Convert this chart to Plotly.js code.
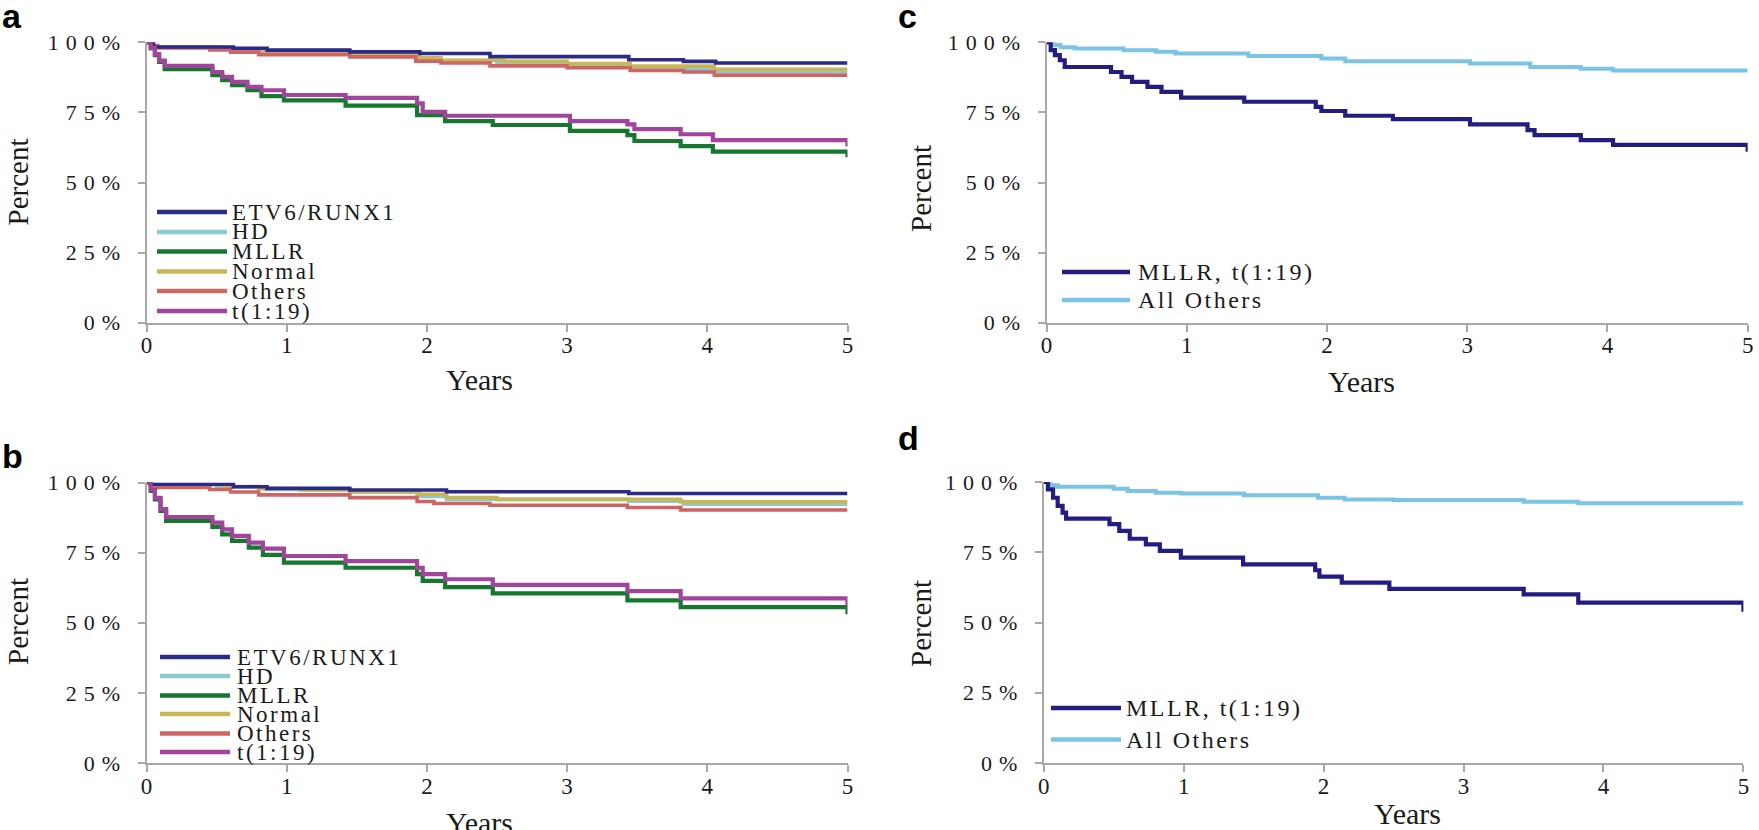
<!DOCTYPE html>
<html>
<head>
<meta charset="utf-8">
<script src="https://cdn.plot.ly/plotly-3.0.1.min.js"></script>
<style>
  html, body { margin: 0; padding: 0; background: #ffffff; }
  #chart { width: 1759px; height: 830px; }
</style>
</head>
<body>
<div id="chart"></div>
<script>
// ---------------- DATA ----------------
const yTickValues = [0, 25, 50, 75, 100];
const yTickLabels = ["0%", "25%", "50%", "75%", "100%"];
const xTickValues = [0, 1, 2, 3, 4, 5];
const xTickLabels = ["0", "1", "2", "3", "4", "5"];

const groupNames = ["ETV6/RUNX1", "HD", "MLLR", "Normal", "Others", "t(1:19)"];
const pairNames = ["MLLR, t(1:19)", "All Others"];

// Panel a
const a_etv6_t = [0, 0.05, 0.62, 0.86, 1.45, 1.95, 2.45, 3.44, 3.83, 4.06, 5];
const a_etv6_s = [100, 98.3, 97.9, 97.2, 96.6, 96.0, 94.9, 93.8, 93.2, 92.6, 92.6];
const a_hd_t = [0, 0.04, 0.5, 0.8, 1.2, 1.95, 2.1, 2.5, 3.0, 3.45, 3.85, 4.05, 5];
const a_hd_s = [100, 98.4, 97.5, 96.5, 95.8, 94.5, 93.5, 92.8, 92.0, 91.2, 90.3, 89.6, 89.6];
const a_mllr_t = [0, 0.03, 0.06, 0.09, 0.13, 0.47, 0.54, 0.61, 0.72, 0.82, 0.98, 1.42, 1.93, 2.13, 2.47, 3.02, 3.43, 3.48, 3.81, 4.04, 5, 5];
const a_mllr_s = [100, 97.8, 95.4, 93.0, 90.4, 88.3, 86.5, 84.7, 82.9, 80.8, 79.3, 77.4, 74.0, 71.9, 70.5, 68.4, 66.9, 64.8, 63.0, 61.0, 61.0, 59.0];
const a_normal_t = [0, 0.04, 0.55, 0.85, 1.45, 1.93, 2.1, 2.55, 3.0, 3.45, 4.05, 5];
const a_normal_s = [100, 98.3, 97.5, 96.4, 95.6, 94.5, 93.6, 93.2, 92.4, 91.5, 90.4, 90.4];
const a_others_t = [0, 0.03, 0.08, 0.45, 0.6, 0.8, 1.45, 1.92, 2.1, 2.45, 3.0, 3.45, 3.83, 4.05, 5];
const a_others_s = [100, 98.8, 98.0, 97.3, 96.5, 95.6, 94.8, 93.3, 92.6, 91.6, 90.9, 90.0, 89.4, 88.3, 88.3];
const a_t119_t = [0, 0.03, 0.06, 0.09, 0.13, 0.47, 0.54, 0.61, 0.72, 0.82, 0.98, 1.42, 1.93, 1.97, 2.13, 3.02, 3.43, 3.48, 3.81, 4.04, 5, 5];
const a_t119_s = [100, 98.0, 95.8, 93.5, 91.6, 89.4, 87.7, 85.9, 84.1, 82.9, 81.2, 80.2, 78.2, 75.2, 73.8, 71.9, 70.7, 69.0, 67.2, 65.1, 65.1, 62.8];

// Panel b
const b_etv6_t = [0, 0.03, 0.62, 0.86, 1.45, 2.14, 3.44, 5];
const b_etv6_s = [100, 99.4, 98.5, 97.9, 97.3, 96.7, 96.1, 96.1];
const b_hd_t = [0, 0.03, 0.5, 0.85, 1.45, 1.95, 2.14, 3.44, 3.83, 5];
const b_hd_s = [100, 99.3, 98.5, 97.5, 96.5, 95.0, 94.0, 93.3, 92.3, 92.3];
const b_mllr_t = [0, 0.03, 0.06, 0.1, 0.14, 0.47, 0.54, 0.61, 0.73, 0.83, 0.98, 1.42, 1.93, 1.97, 2.13, 2.47, 3.43, 3.81, 5, 5];
const b_mllr_s = [100, 97.0, 94.0, 89.9, 86.3, 84.2, 81.5, 79.2, 76.8, 74.2, 71.4, 69.6, 67.3, 64.9, 62.7, 60.5, 58.0, 55.6, 55.6, 53.0];
const b_normal_t = [0, 0.04, 0.55, 0.8, 1.1, 1.45, 1.93, 2.14, 2.5, 3.81, 5];
const b_normal_s = [100, 99.2, 98.6, 97.8, 97.3, 96.6, 95.8, 94.6, 94.0, 93.1, 93.1];
const b_others_t = [0, 0.03, 0.08, 0.45, 0.6, 0.8, 1.45, 1.93, 2.05, 2.45, 3.43, 3.81, 5];
const b_others_s = [100, 98.8, 98.2, 97.5, 96.6, 95.6, 94.6, 93.2, 92.5, 91.9, 91.1, 90.2, 90.2];
const b_t119_t = [0, 0.03, 0.06, 0.1, 0.14, 0.47, 0.54, 0.61, 0.73, 0.83, 0.98, 1.42, 1.93, 1.97, 2.13, 2.47, 3.43, 3.81, 5, 5];
const b_t119_s = [100, 97.5, 94.5, 90.5, 87.7, 85.7, 83.3, 81.0, 78.6, 76.4, 73.8, 72.0, 69.6, 67.3, 65.5, 63.5, 61.3, 58.7, 58.7, 56.0];

// Panel c
const c_pair_t = [0, 0.03, 0.06, 0.095, 0.13, 0.46, 0.535, 0.61, 0.72, 0.82, 0.96, 1.41, 1.92, 1.96, 2.13, 2.47, 3.02, 3.43, 3.48, 3.81, 4.04, 5, 5];
const c_pair_s = [100, 97.2, 95.4, 93.6, 91.2, 89.4, 87.7, 85.9, 84.1, 82.3, 80.3, 78.8, 77.0, 75.5, 73.8, 72.6, 70.7, 68.7, 66.9, 65.1, 63.4, 63.4, 61.0];
const c_rest_t = [0, 0.05, 0.1, 0.2, 0.55, 0.78, 0.92, 1.44, 1.96, 2.13, 3.02, 3.45, 3.81, 4.04, 5];
const c_rest_s = [100, 99.0, 98.2, 97.8, 97.2, 96.6, 96.0, 95.1, 94.2, 93.2, 92.4, 91.2, 90.6, 89.9, 89.9];

// Panel d
const d_pair_t = [0, 0.03, 0.067, 0.1, 0.135, 0.16, 0.47, 0.54, 0.615, 0.73, 0.83, 0.98, 1.425, 1.94, 1.97, 2.13, 2.47, 3.43, 3.82, 5, 5];
const d_pair_s = [100, 97.4, 94.4, 91.5, 89.1, 87.0, 85.0, 82.6, 79.8, 77.8, 75.5, 73.1, 70.7, 68.6, 66.3, 64.2, 62.0, 60.0, 57.1, 57.1, 53.8];
const d_rest_t = [0, 0.05, 0.1, 0.5, 0.6, 0.8, 0.98, 1.43, 1.96, 2.15, 2.5, 3.43, 3.82, 5];
const d_rest_s = [100, 98.8, 98.3, 97.6, 96.8, 96.2, 95.9, 95.3, 94.4, 93.8, 93.6, 93.0, 92.4, 92.4];

// ---------------- STYLE / LAYOUT ----------------
const W = 1759, H = 830;
const px = v => v / W;
const py = v => 1 - v / H;

const groupColors = ["#2b2a86", "#8cc8d0", "#16782f", "#c9b655", "#cd6565", "#a0449c"];
const pairColors = ["#231d80", "#7cc4e6"];
const serif = "Liberation Serif, Times New Roman, serif";
const axisGray = "#a8a8a8";

const panels = {
  a: {x: [146.5, 847.5], y: [322.7, 42.3]},
  b: {x: [146.5, 847.5], y: [763, 482.5]},
  c: {x: [1046.5, 1747.7], y: [322.7, 42.3]},
  d: {x: [1043.7, 1743.4], y: [763, 482]}
};
const axisIds = {a: "", b: "2", c: "3", d: "4"};

const traces = [];
function addCurve(panel, t, s, color, name, width) {
  const id = axisIds[panel];
  traces.push({
    type: "scatter", mode: "lines",
    x: t, y: s, name: name,
    xaxis: "x" + id, yaxis: "y" + id,
    line: {shape: "hv", color: color, width: width},
    cliponaxis: false,
    showlegend: false,
    hoverinfo: "skip"
  });
}
const aSets = [[a_etv6_t, a_etv6_s], [a_hd_t, a_hd_s], [a_mllr_t, a_mllr_s], [a_normal_t, a_normal_s], [a_others_t, a_others_s], [a_t119_t, a_t119_s]];
const bSets = [[b_etv6_t, b_etv6_s], [b_hd_t, b_hd_s], [b_mllr_t, b_mllr_s], [b_normal_t, b_normal_s], [b_others_t, b_others_s], [b_t119_t, b_t119_s]];
// draw order: lower curves on top
const order = [1, 3, 4, 0, 2, 5];
order.forEach(i => addCurve("a", aSets[i][0], aSets[i][1], groupColors[i], groupNames[i], i === 2 || i === 5 ? 4.2 : 3.6));
order.forEach(i => addCurve("b", bSets[i][0], bSets[i][1], groupColors[i], groupNames[i], i === 2 || i === 5 ? 4.2 : 3.6));
addCurve("c", c_rest_t, c_rest_s, pairColors[1], pairNames[1], 4);
addCurve("c", c_pair_t, c_pair_s, pairColors[0], pairNames[0], 4.2);
addCurve("d", d_rest_t, d_rest_s, pairColors[1], pairNames[1], 4);
addCurve("d", d_pair_t, d_pair_s, pairColors[0], pairNames[0], 4.2);

const layout = {
  width: W, height: H,
  margin: {l: 0, r: 0, t: 0, b: 0},
  paper_bgcolor: "#ffffff", plot_bgcolor: "#ffffff",
  showlegend: false,
  font: {family: serif, color: "#1a1a1a"},
  annotations: [], shapes: []
};

function spaced(txt, sp) { return '<span style="letter-spacing:' + sp + 'px">' + txt + '</span>'; }

Object.keys(panels).forEach(k => {
  const p = panels[k], id = axisIds[k];
  layout["xaxis" + id] = {
    domain: [px(p.x[0]), px(p.x[1])], range: [0, 5],
    anchor: "y" + id,
    tickvals: xTickValues, ticktext: xTickLabels,
    showline: true, linecolor: axisGray, linewidth: 2,
    ticks: "outside", ticklen: 7, tickwidth: 2, tickcolor: axisGray,
    showgrid: false, zeroline: false, fixedrange: true,
    ticklabelstandoff: -6,
    tickfont: {family: serif, size: 23, color: "#1a1a1a"}
  };
  layout["yaxis" + id] = {
    domain: [py(p.y[0]), py(p.y[1])], range: [0, 100],
    anchor: "x" + id,
    tickvals: yTickValues, ticktext: yTickLabels.map(t => spaced(t, 7)),
    showline: true, linecolor: axisGray, linewidth: 2,
    ticks: "outside", ticklen: 7, tickwidth: 2, tickcolor: axisGray,
    showgrid: false, zeroline: false, fixedrange: true,
    ticklabelstandoff: 6,
    tickfont: {family: serif, size: 22, color: "#1a1a1a"}
  };
});

// Panel letters
const letters = [["a", 1, 16], ["b", 1, 456], ["c", 897, 16], ["d", 897, 438]];
letters.forEach(L => layout.annotations.push({
  text: "<b>" + L[0] + "</b>", xref: "paper", yref: "paper",
  x: px(L[1]), y: py(L[2]), xanchor: "left", yanchor: "middle", showarrow: false,
  borderpad: 0,
  font: {family: "Liberation Sans Narrow, Liberation Sans, Arial, sans-serif", size: 34, color: "#000"}
}));

// Axis titles
const titlePos = {
  a: {percent: [18, 182.5], years: [479, 379]},
  b: {percent: [18, 622], years: [479, 822]},
  c: {percent: [921, 189], years: [1361, 381]},
  d: {percent: [921, 624], years: [1407, 813]}
};
Object.keys(titlePos).forEach(k => {
  const tp = titlePos[k];
  layout.annotations.push({
    text: "Percent", xref: "paper", yref: "paper",
    x: px(tp.percent[0]), y: py(tp.percent[1]), xanchor: "center", yanchor: "middle",
    textangle: -90, showarrow: false, borderpad: 0,
    font: {family: serif, size: 29, color: "#1a1a1a"}
  });
  layout.annotations.push({
    text: "Years", xref: "paper", yref: "paper",
    x: px(tp.years[0]), y: py(tp.years[1]), xanchor: "center", yanchor: "middle",
    showarrow: false, font: {family: serif, size: 30, color: "#1a1a1a"}
  });
});

// Legends (line samples + text)
function addLegend(names, colors, lineX0, lineX1, textX, rows, fontSize, spacing) {
  names.forEach((n, i) => {
    layout.shapes.push({
      type: "line", xref: "paper", yref: "paper",
      x0: px(lineX0), x1: px(lineX1), y0: py(rows[i]), y1: py(rows[i]),
      line: {color: colors[i], width: 4.5}
    });
    layout.annotations.push({
      text: spaced(n, spacing), xref: "paper", yref: "paper",
      x: px(textX), y: py(rows[i]), xanchor: "left", yanchor: "middle",
      showarrow: false, borderpad: 0,
      font: {family: serif, size: fontSize, color: "#1a1a1a"}
    });
  });
}
addLegend(groupNames, groupColors, 157, 227, 231, [212, 232, 251.5, 271.5, 291, 311], 23, 2.5);
addLegend(groupNames, groupColors, 160, 230, 236, [657, 676, 695.5, 714, 733.5, 752], 23, 2.5);
addLegend(pairNames, pairColors, 1062, 1130, 1137, [272, 300], 24, 2.5);
addLegend(pairNames, pairColors, 1051, 1121, 1125, [708, 739.5], 24, 2.5);

Plotly.newPlot("chart", traces, layout, {staticPlot: true, displayModeBar: false});
</script>
</body>
</html>
